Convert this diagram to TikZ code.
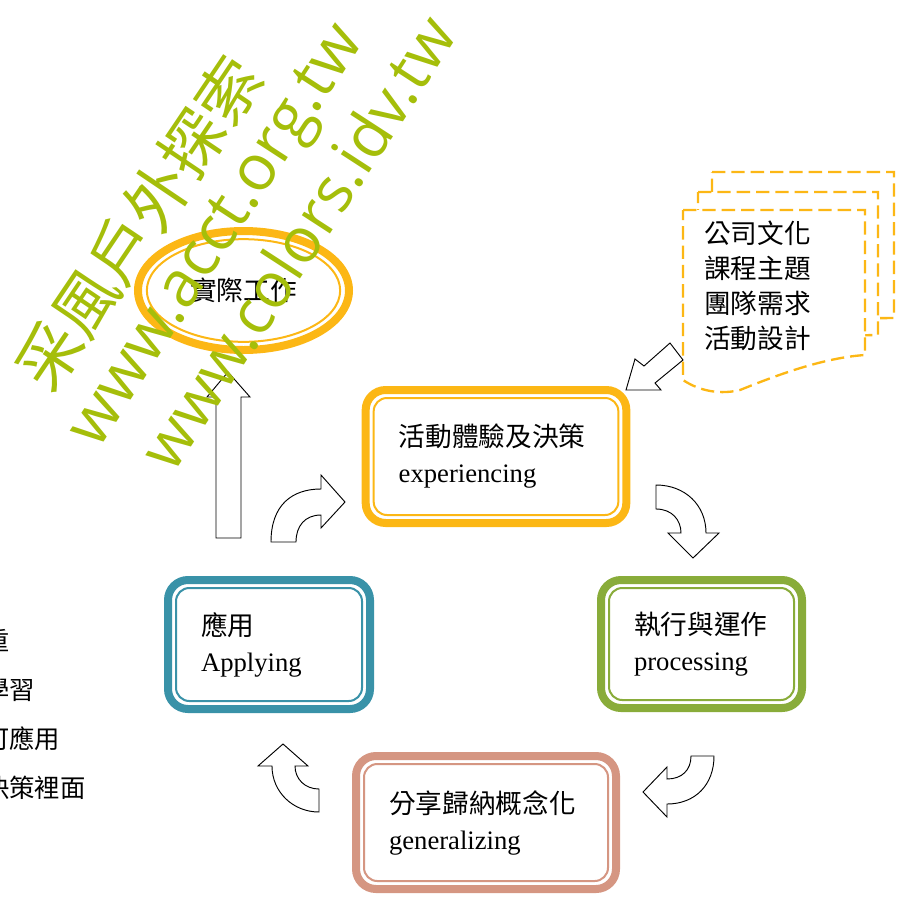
\documentclass[tikz,border=0pt]{standalone}
\usepackage{fontspec}
\setmainfont{Liberation Serif}
\newfontfamily\cjk{Noto Sans CJK TC}
\newfontfamily\wmfont{Open Sans}
\usepackage{tikz}
\usetikzlibrary{shapes.geometric,calc}

\definecolor{stageorange}{RGB}{252,183,21}
\definecolor{stagegreen}{RGB}{137,172,58}
\definecolor{stageteal}{RGB}{57,146,168}
\definecolor{stagerose}{RGB}{213,150,130}
\definecolor{wmgreen}{RGB}{165,190,10}

\tikzset{
  stage/.style={draw=#1, line width=6pt, rounded corners=15pt, outer sep=0pt,
    inner xsep=24.75pt, align=left, fill=white,
    font=\fontsize{20pt}{27pt}\selectfont},
  turnarrow/.style={draw=black, fill=white, line width=0.7pt, line join=miter},
  sheet/.style={draw=stageorange, fill=white, line width=1.75pt,
    dash pattern=on 10pt off 4.5pt},
  wmtext/.style={text=wmgreen, inner sep=0pt},
}

\begin{document}
\begin{tikzpicture}[x=0.75pt, y=-0.75pt]
\useasboundingbox (0,0) rectangle (903,897);

% the four stages of the cycle
\node[stage=stageorange, text width=146pt, minimum height=99.75pt] (exp) at (496,456.5) {{\cjk 活動體驗及決策}\\experiencing};
\node[stage=stagegreen, text width=101.25pt, minimum height=96pt] (proc) at (701.5,644) {{\cjk 執行與運作}\\processing};
\node[stage=stagerose, text width=145.5pt, minimum height=99.75pt] (gen) at (486,822.5) {{\cjk 分享歸納概念化}\\generalizing};
\node[stage=stageteal, text width=102pt, minimum height=96.75pt] (app) at (269,644.5) {{\cjk 應用}\\Applying};

\foreach \n/\c in {exp/stageorange, proc/stagegreen, gen/stagerose, app/stageteal}
  \draw[\c, line width=1.5pt, rounded corners=10pt]
    ($(\n.north west)+(6pt,-6pt)$) rectangle ($(\n.south east)+(-6pt,6pt)$);

% curved arrows between stages
\draw[turnarrow] (271,542) .. controls (271,505) and (292,489) .. (321,489) -- (321,475) -- (345,502) -- (321,528) -- (321,515) .. controls (305,515) and (296,526) .. (296,542) -- cycle;
\draw[turnarrow] (656,485) .. controls (685,485) and (706,505) .. (706,533) -- (719,533) -- (693,558) -- (668,533) -- (681,533) .. controls (681,520) and (672,509) .. (656,509) -- cycle;
\draw[turnarrow] (714,756) .. controls (714,785) and (695,804) .. (667,804) -- (667,817) -- (643,792) -- (667,767) -- (667,779) .. controls (682,779) and (691,770) .. (691,756) -- cycle;
\draw[turnarrow] (319,812) .. controls (293,812) and (272,792) .. (272,766) -- (258,766) -- (283,744) -- (308,766) -- (295,766) .. controls (295,779) and (305,789) .. (319,789) -- cycle;

% real work
\node[shape=ellipse, draw=stageorange, line width=6pt, minimum width=158.25pt, minimum height=89.25pt,
  inner sep=0pt, outer sep=0pt, font=\cjk\fontsize{20pt}{27pt}\selectfont] (work) at (243.5,290.5) {實際工作};
\draw[stageorange, line width=1.5pt] (work.center) ellipse [x radius=72.5pt, y radius=38.5pt];
\draw[turnarrow] (216,538) -- (216,397) -- (207,397) -- (228,372) -- (250,397) -- (241,397) -- (241,538) -- cycle;

% inputs
\draw[sheet] (712,172) -- (894,172) -- (894,318) -- (712,320) -- cycle;
\draw[sheet] (698,192) -- (878,192) -- (878,335) -- (698,338) -- cycle;
\draw[sheet] (683,210) -- (865,210) -- (865,355) .. controls (820,358) and (770,378) .. (740,390)
  .. controls (715,396) and (695,388) .. (683,380) -- cycle;
\node[align=left, inner sep=0pt, font=\cjk\fontsize{20pt}{26.25pt}\selectfont] (needs) at (757.5,285.5) {公司文化\\課程主題\\團隊需求\\活動設計};
\draw[turnarrow] (626,390) -- (635,359) -- (644,366) -- (670,343) -- (683,360) -- (655,383) -- (661,390) -- cycle;

% list at the left edge
\node[anchor=west, align=left, inner sep=0pt, font=\cjk\fontsize{19pt}{36.75pt}\selectfont] (gains) at (-16,714) {重\\學習\\可應用\\決策裡面};

% watermark
\node[wmtext, rotate=56, font=\cjk\fontsize{48pt}{48pt}\selectfont] (wm1) at (139,223) {采風戶外探索};
\node[wmtext, rotate=57, font=\wmfont\fontsize{48pt}{48pt}\selectfont] (wm2) at (220,238) {www.acct.org.tw};
\node[wmtext, rotate=57, font=\wmfont\fontsize{47pt}{47pt}\selectfont] (wm3) at (297,242) {www.colors.idv.tw};
\end{tikzpicture}
\end{document}
